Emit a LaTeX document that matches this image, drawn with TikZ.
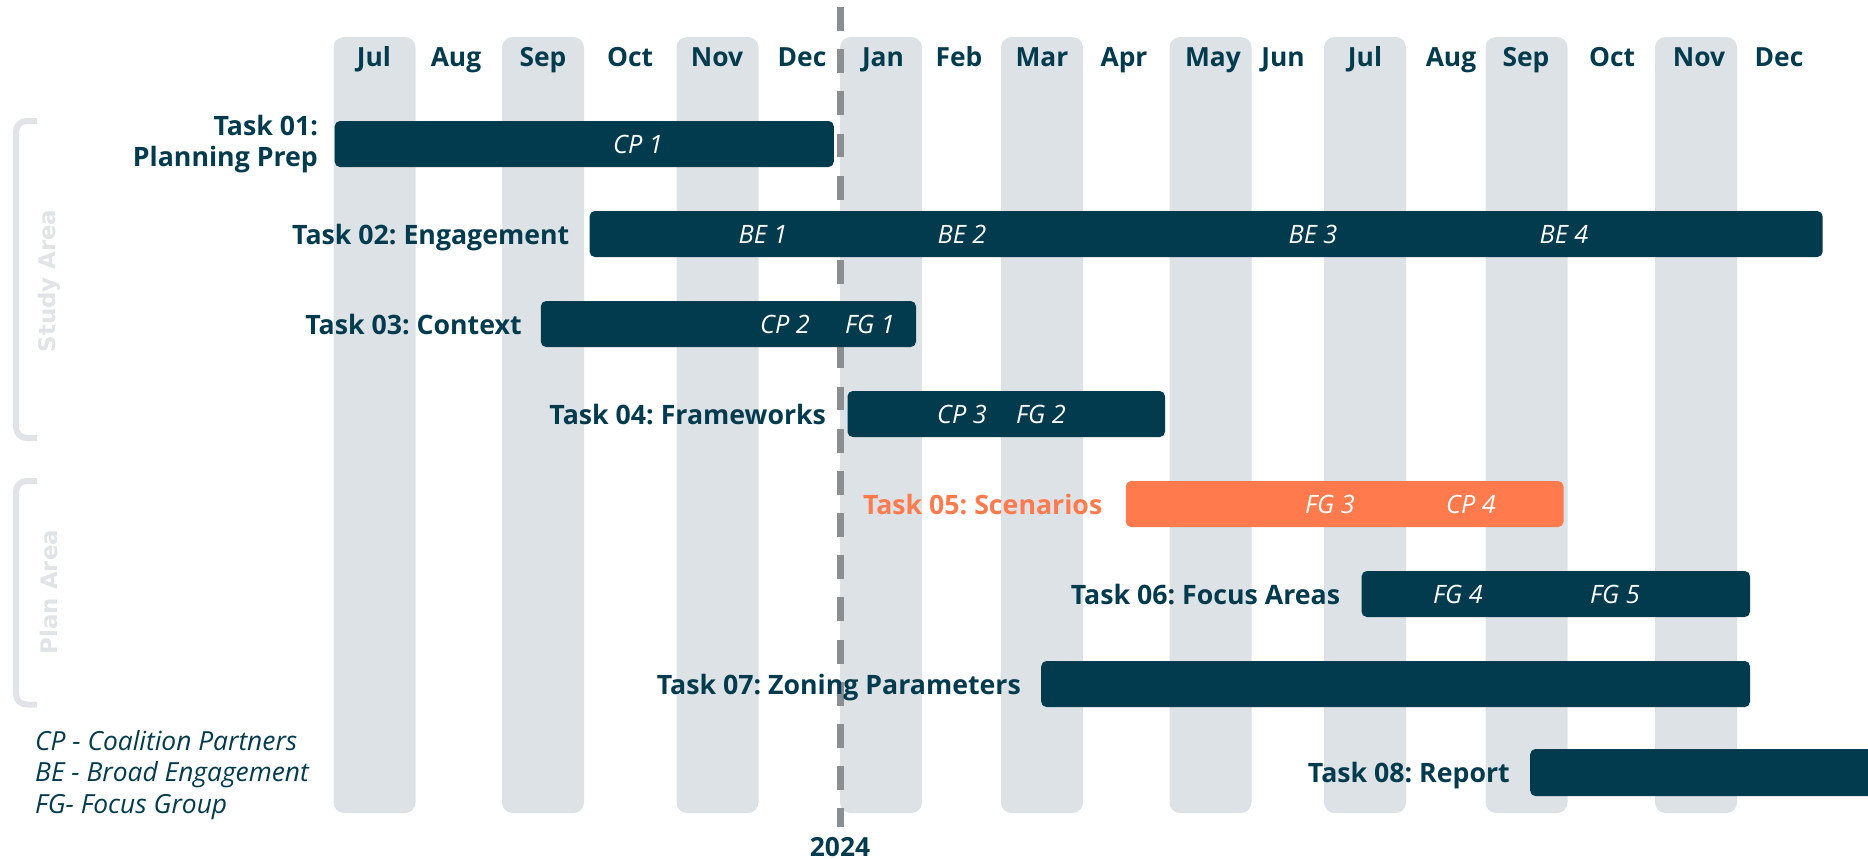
\documentclass[tikz,border=0pt]{standalone}
\usepackage{fontspec}
\setmainfont{Open Sans}
\newfontfamily\areafont{DejaVu Sans}
\definecolor{navy}{HTML}{033B4E}
\definecolor{coral}{HTML}{FF7A4C}
\definecolor{stripe}{HTML}{DDE2E6}
\definecolor{areagray}{HTML}{E0E3E7}
\definecolor{divider}{HTML}{8C8F92}
\frenchspacing

\begin{document}
\begin{tikzpicture}[x=0.1mm, y=0.1mm]
\tikzstyle{every node}+=[inner sep=0pt]
\tikzstyle{month}=[font=\fontsize{7.5}{9}\selectfont\bfseries, text=navy, anchor=base]
\tikzstyle{task}=[font=\fontsize{7.6}{8.6}\selectfont\bfseries, text=navy, anchor=base east, align=right]
\tikzstyle{tag}=[font=\fontsize{7.2}{9}\selectfont\itshape, text=white, anchor=base]
\tikzstyle{key}=[font=\fontsize{7.5}{9}\selectfont\itshape, text=navy, anchor=base west]
\tikzstyle{area}=[font=\areafont\fontsize{6.5}{8}\selectfont\bfseries, text=areagray, rotate=90]
\tikzstyle{bar}=[fill=navy, rounded corners=1.5pt]
\tikzstyle{col}=[fill=stripe, rounded corners=3pt]
\tikzstyle{brace}=[draw=areagray, line width=1.7pt, rounded corners=3pt]
\useasboundingbox (0,0) rectangle (1868,-858);
% shaded month columns
\fill [col] (333.5,-37) rectangle (415.5,-813);
\fill [col] (502,-37) rectangle (584,-813);
\fill [col] (676.5,-37) rectangle (758.5,-813);
\fill [col] (840,-37) rectangle (922,-813);
\fill [col] (1001,-37) rectangle (1083,-813);
\fill [col] (1169.5,-37) rectangle (1251.5,-813);
\fill [col] (1324,-37) rectangle (1406,-813);
\fill [col] (1485.5,-37) rectangle (1567.5,-813);
\fill [col] (1655,-37) rectangle (1737,-813);
% month names
\node [month] (jul1) at (374,-66.5) {Jul};
\node [month] (aug1) at (456,-66.5) {Aug};
\node [month] (sep1) at (543,-66.5) {Sep};
\node [month] (oct1) at (630,-66.5) {Oct};
\node [month] (nov1) at (717,-66.5) {Nov};
\node [month] (dec1) at (802,-66.5) {Dec};
\node [month] (jan2) at (883,-66.5) {Jan};
\node [month] (feb2) at (959,-66.5) {Feb};
\node [month] (mar2) at (1042,-66.5) {Mar};
\node [month] (apr2) at (1124,-66.5) {Apr};
\node [month] (may2) at (1213,-66.5) {May};
\node [month] (jun2) at (1283,-66.5) {Jun};
\node [month] (jul2) at (1365,-66.5) {Jul};
\node [month] (aug2) at (1451,-66.5) {Aug};
\node [month] (sep2) at (1526,-66.5) {Sep};
\node [month] (oct2) at (1612,-66.5) {Oct};
\node [month] (nov2) at (1699,-66.5) {Nov};
\node [month] (dec2) at (1779,-66.5) {Dec};
% year break
\draw [divider, line width=1.8pt, dash pattern=on 6.8pt off 5.2pt] (840.5,-7) -- (840.5,-827);
\node [month] (year) at (840,-856) {2024};
% study / plan brackets
\draw [brace] (37,-121) -- (16,-121) -- (16,-438) -- (37,-438);
\node [area] (study) at (49,-281) {Study Area};
\draw [brace] (37,-481) -- (16,-481) -- (16,-704.5) -- (37,-704.5);
\node [area] (plan) at (49,-592) {Plan Area};
% task bars
\fill [bar] (334.7,-121) rectangle (833.8,-167);
\fill [bar] (589.6,-211) rectangle (1822.6,-257);
\fill [bar] (540.8,-301) rectangle (916,-347);
\fill [bar] (847.5,-391) rectangle (1165,-437);
\fill [bar, fill=coral] (1125.8,-481) rectangle (1563.5,-527);
\fill [bar] (1361.6,-571) rectangle (1750,-617);
\fill [bar] (1041.2,-661) rectangle (1750,-707);
\fill [navy] (1868,-749) [rounded corners=1.5pt] -- (1530.2,-749) -- (1530.2,-796) [sharp corners] -- (1868,-796) -- cycle;
% task names
\node [task, anchor=east] (task1) at (318.6,-144) {Task 01:\\Planning Prep};
\node [task] (task2) at (570,-244) {Task 02: Engagement};
\node [task] (task3) at (522.3,-334) {Task 03: Context};
\node [task] (task4) at (826.7,-424) {Task 04: Frameworks};
\node [task, text=coral] (task5) at (1103,-514) {Task 05: Scenarios};
\node [task] (task6) at (1340.8,-604) {Task 06: Focus Areas};
\node [task] (task7) at (1021.6,-694) {Task 07: Zoning Parameters};
\node [task] (task8) at (1510.5,-782) {Task 08: Report};
% meetings on the bars
\node [tag] (cp1) at (638,-153) {CP 1};
\node [tag] (be1) at (763,-243) {BE 1};
\node [tag] (be2) at (962,-243) {BE 2};
\node [tag] (be3) at (1313,-243) {BE 3};
\node [tag] (be4) at (1564,-243) {BE 4};
\node [tag] (cp2) at (785,-333) {CP 2};
\node [tag] (fg1) at (870,-333) {FG 1};
\node [tag] (cp3) at (962,-423) {CP 3};
\node [tag] (fg2) at (1041,-423) {FG 2};
\node [tag] (fg3) at (1330,-513) {FG 3};
\node [tag] (cp4) at (1471,-513) {CP 4};
\node [tag] (fg4) at (1458,-603) {FG 4};
\node [tag] (fg5) at (1615,-603) {FG 5};
% legend
\node [key] (keycp) at (34.5,-750) {CP - Coalition Partners};
\node [key] (keybe) at (34.5,-781.7) {BE - Broad Engagement};
\node [key] (keyfg) at (34.5,-813.3) {FG- Focus Group};
\end{tikzpicture}
\end{document}
